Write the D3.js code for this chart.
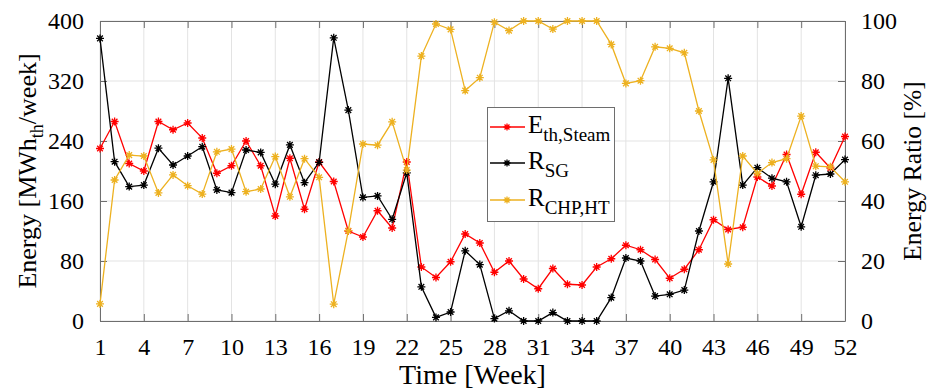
<!DOCTYPE html>
<html>
<head>
<meta charset="utf-8">
<script src="https://cdn.jsdelivr.net/npm/d3@7"></script>
<style>
  html, body { margin: 0; padding: 0; background: #fff; }
  svg { display: block; }
  text { font-family: "Liberation Serif", "Times New Roman", serif; fill: #000; }
</style>
</head>
<body>
<svg id="chart" width="927" height="391" font-family="Liberation Serif, serif"></svg>
<script>
// ---- data ----
const weeks = [1,2,3,4,5,6,7,8,9,10,11,12,13,14,15,16,17,18,19,20,21,22,23,24,25,26,
  27,28,29,30,31,32,33,34,35,36,37,38,39,40,41,42,43,44,45,46,47,48,49,50,51,52];
const eSteam = [230,266,210,200,266,255,264,244,197,207,240,207,140,217,149,212,186,120,112,147,124,212,
  72,58,79,116,104,65,80,56,43,70,49,48,72,83,101,95,82,57,69,95,135,122,125,192,180,222,169,225,204,246];
const rSG = [94.2,53.1,44.8,45.3,57.6,52,55,58.1,43.7,42.8,57,56.2,45.6,58.7,46.1,52.9,94.4,70.3,41.2,41.7,33.9,49.4,
  11.4,1.2,3,23.4,18.8,0.8,3.4,0,0,2.8,0,0,0,7.8,21,20,8.3,8.9,10.3,30,46.4,80.9,45.3,51.1,47.6,46.4,31.4,48.6,49,53.8];
const rCHP = [5.7,47,55.3,55,42.7,48.7,45.1,42.3,56.4,57.3,43.1,44,54.8,41.4,54.1,47.9,5.6,30.1,59,58.6,66.4,50.3,
  88.3,99,97.2,76.8,81.1,99.6,96.8,100,100,97.3,100,100,100,92.2,79.2,80.1,91.4,90.9,89.4,70,53.7,19,55,49.2,52.8,54.1,68.3,51.6,51.4,46.4];
const xTicks = [1,4,7,10,13,16,19,22,25,28,31,34,37,40,43,46,49,52];
const yLeftTicks = [0,80,160,240,320,400];
const yRightTicks = [0,20,40,60,80,100];
const seriesNames = ["E", "R", "R"];
const seriesSubs = ["th,Steam", "SG", "CHP,HT"];
const seriesColors = ["#ff0000", "#000000", "#EDB120"];

// ---- layout ----
const FONT = '"Liberation Serif", "Times New Roman", serif';
const L = 100, R = 845, T = 21, B = 321;
const svg = d3.select("#chart");
const x = d3.scaleLinear().domain([1, 52]).range([L, R]);
const yL = d3.scaleLinear().domain([0, 400]).range([B, T]);
const yR = d3.scaleLinear().domain([0, 100]).range([B, T]);

// grid
const grid = svg.append("g").attr("stroke", "#e3e3e3").attr("stroke-width", 1);
xTicks.forEach(t => grid.append("line").attr("x1", x(t)).attr("x2", x(t)).attr("y1", T).attr("y2", B));
yLeftTicks.forEach(t => grid.append("line").attr("x1", L).attr("x2", R).attr("y1", yL(t)).attr("y2", yL(t)));

// axes (inward ticks, MATLAB style)
const axisColor = "#6e6e6e";
function styleAxis(g) {
  g.attr("font-family", "Liberation Serif").attr("font-size", 24);
  g.selectAll("path.domain").attr("stroke", axisColor);
  g.selectAll(".tick line").attr("stroke", axisColor);
  g.selectAll(".tick text").attr("font-family", "Liberation Serif").style("font-family", FONT)
    .style("font-size", "24px").attr("fill", "#000");
}
const xb = svg.append("g").attr("transform", `translate(0,${B})`)
  .call(d3.axisBottom(x).tickValues(xTicks).tickSizeInner(-7).tickSizeOuter(0).tickPadding(17).tickFormat(d3.format("d")));
styleAxis(xb);
const xt = svg.append("g").attr("transform", `translate(0,${T})`)
  .call(d3.axisTop(x).tickValues(xTicks).tickSizeInner(-7).tickSizeOuter(0).tickFormat(""));
styleAxis(xt);
const yl = svg.append("g").attr("transform", `translate(${L},0)`)
  .call(d3.axisLeft(yL).tickValues(yLeftTicks).tickSizeInner(-7).tickSizeOuter(0).tickPadding(16));
styleAxis(yl);
const yr = svg.append("g").attr("transform", `translate(${R},0)`)
  .call(d3.axisRight(yR).tickValues(yRightTicks).tickSizeInner(-7).tickSizeOuter(0).tickPadding(16));
styleAxis(yr);

// axis titles
svg.append("text").attr("x", (L + R) / 2).attr("y", 384).attr("text-anchor", "middle")
  .style("font-family", FONT).style("font-size", "28px").text("Time [Week]");
const yt = svg.append("text").attr("transform", `translate(36,${(T + B) / 2}) rotate(-90)`)
  .attr("text-anchor", "middle").style("font-family", FONT).style("font-size", "26px");
yt.append("tspan").text("Energy [MWh");
yt.append("tspan").attr("dy", 7).style("font-size", "18px").text("th");
yt.append("tspan").attr("dy", -7).text("/week]");
svg.append("text").attr("transform", `translate(921,${(T + B) / 2}) rotate(-90)`)
  .attr("text-anchor", "middle").style("font-family", FONT).style("font-size", "25.5px").text("Energy Ratio [%]");

// asterisk marker
function star(r) {
  const d = r * Math.SQRT1_2;
  return `M${-r},0L${r},0M0,${-r}L0,${r}M${-d},${-d}L${d},${d}M${-d},${d}L${d},${-d}`;
}

const series = [
  { vals: eSteam, y: yL },
  { vals: rSG, y: yR },
  { vals: rCHP, y: yR }
];
series.forEach((s, i) => {
  const pts = weeks.map((w, k) => [x(w), s.y(s.vals[k])]);
  svg.append("path").attr("d", d3.line()(pts)).attr("fill", "none")
    .attr("stroke", seriesColors[i]).attr("stroke-width", 1.3);
  svg.append("g").selectAll("path").data(pts).join("path")
    .attr("transform", d => `translate(${d[0]},${d[1]})`)
    .attr("d", star(4)).attr("stroke", seriesColors[i]).attr("stroke-width", 1.3).attr("fill", "none");
});

// legend
const lg = svg.append("g");
lg.append("rect").attr("x", 487.5).attr("y", 107.5).attr("width", 127).attr("height", 114)
  .attr("fill", "#fff").attr("stroke", "#6e6e6e").attr("stroke-width", 1);
const rowsY = [127, 163, 200];
seriesNames.forEach((n, i) => {
  const yy = rowsY[i];
  lg.append("line").attr("x1", 490).attr("x2", 525).attr("y1", yy).attr("y2", yy)
    .attr("stroke", seriesColors[i]).attr("stroke-width", 1.3);
  lg.append("path").attr("transform", `translate(507,${yy})`).attr("d", star(3.5))
    .attr("stroke", seriesColors[i]).attr("stroke-width", 1.3).attr("fill", "none");
  const t = lg.append("text").attr("x", 528).attr("y", yy + 6).style("font-family", FONT).style("font-size", "25px");
  t.append("tspan").text(n);
  t.append("tspan").attr("dy", 8).style("font-size", "19px").text(seriesSubs[i]);
});
</script>
</body>
</html>
